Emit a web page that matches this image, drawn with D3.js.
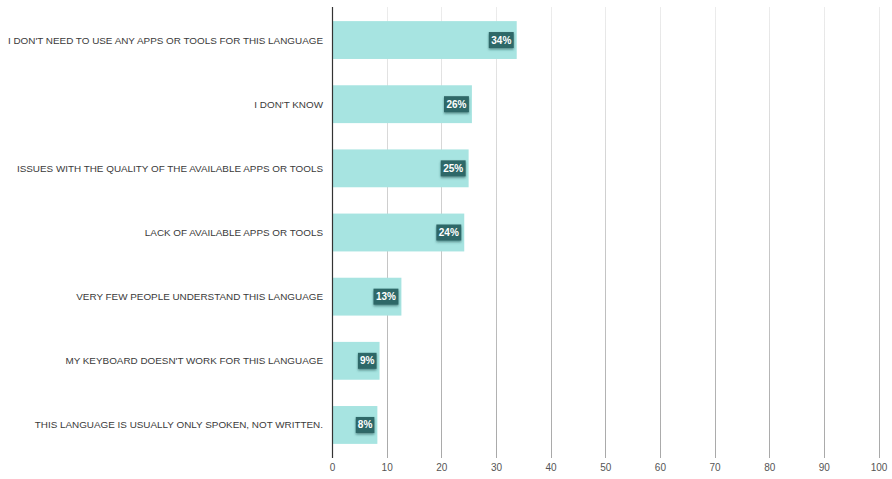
<!DOCTYPE html>
<html>
<head>
<meta charset="utf-8">
<script src="https://cdn.jsdelivr.net/npm/d3@7"></script>
<style>
  body { margin: 0; background: #fff; overflow: hidden; }
  svg { display: block; font-family: "Liberation Sans", Arial, sans-serif; }
  .cat-label { font-size: 9.9px; fill: #3a3a3a; }
  .x-axis text { font-size: 10px; fill: #555; }
  .badge-text { font-size: 10px; font-weight: bold; fill: #fff; }
</style>
</head>
<body>
<div id="chart"></div>
<script>
// Données
const categories = [
  "I DON'T NEED TO USE ANY APPS OR TOOLS FOR THIS LANGUAGE",
  "I DON'T KNOW",
  "ISSUES WITH THE QUALITY OF THE AVAILABLE APPS OR TOOLS",
  "LACK OF AVAILABLE APPS OR TOOLS",
  "VERY FEW PEOPLE UNDERSTAND THIS LANGUAGE",
  "MY KEYBOARD DOESN'T WORK FOR THIS LANGUAGE",
  "THIS LANGUAGE IS USUALLY ONLY SPOKEN, NOT WRITTEN."
];
const values = [33.8, 25.6, 25.0, 24.2, 12.7, 8.7, 8.3];
const valueLabels = ["34%", "26%", "25%", "24%", "13%", "9%", "8%"];
const xTicks = [0, 10, 20, 30, 40, 50, 60, 70, 80, 90, 100];

const width = 892, height = 479;
const margin = { top: 7, right: 13, bottom: 21, left: 332 };
const innerWidth = width - margin.left - margin.right;
const innerHeight = height - margin.top - margin.bottom;

const svg = d3.select("#chart").append("svg")
  .attr("width", width)
  .attr("height", height);

// gradient for grid lines (light at top, darker at bottom)
const defs = svg.append("defs");
const grad = defs.append("linearGradient")
  .attr("id", "gridGrad")
  .attr("gradientUnits", "userSpaceOnUse")
  .attr("x1", 0).attr("y1", 0).attr("x2", 0).attr("y2", innerHeight);
grad.append("stop").attr("offset", "0%").attr("stop-color", "#ececec");
grad.append("stop").attr("offset", "100%").attr("stop-color", "#a8a8a8");

const shadow = defs.append("filter").attr("id", "badgeShadow")
  .attr("x", "-30%").attr("y", "-30%").attr("width", "160%").attr("height", "170%");
shadow.append("feDropShadow")
  .attr("dx", 0).attr("dy", 1.5).attr("stdDeviation", 1.2)
  .attr("flood-color", "#1d4f4f").attr("flood-opacity", 0.6);

const g = svg.append("g")
  .attr("transform", `translate(${margin.left},${margin.top})`);

const xScale = d3.scaleLinear().domain([0, 100]).range([0, innerWidth - 0.5]);
const yScale = d3.scaleBand().domain(categories).range([0, innerHeight]).paddingInner(0.41).paddingOuter(0.22);

// GRID
g.selectAll(".grid-line")
  .data(xTicks.filter(d => d > 0))
  .enter()
  .append("line")
    .attr("class", "grid-line")
    .attr("x1", d => Math.round(xScale(d)) + 0.5)
    .attr("x2", d => Math.round(xScale(d)) + 0.5)
    .attr("y1", 0)
    .attr("y2", innerHeight)
    .attr("stroke", "url(#gridGrad)")
    .attr("stroke-width", 1);

// BARS
g.selectAll("rect.bar")
  .data(values)
  .enter()
  .append("rect")
    .attr("class", "bar")
    .attr("x", 0)
    .attr("y", (d, i) => yScale(categories[i]))
    .attr("width", d => xScale(d))
    .attr("height", yScale.bandwidth())
    .attr("fill", "#a7e4e1");

// BADGES
const badgeW = i => valueLabels[i].length * 6.3 + 6;
const badges = g.selectAll("g.badge")
  .data(values)
  .enter()
  .append("g")
    .attr("class", "badge")
    .attr("transform", (d, i) => `translate(${xScale(d) - 3},${yScale(categories[i]) + yScale.bandwidth() / 2})`);

badges.append("rect")
  .attr("x", (d, i) => -badgeW(i))
  .attr("y", -8)
  .attr("width", (d, i) => badgeW(i))
  .attr("height", 16)
  .attr("fill", "#2e6767")
  .attr("filter", "url(#badgeShadow)");

badges.append("text")
  .attr("class", "badge-text")
  .attr("x", (d, i) => -badgeW(i) / 2)
  .attr("y", 3.5)
  .attr("text-anchor", "middle")
  .text((d, i) => valueLabels[i]);

// Y-AXIS labels
g.selectAll("text.cat-label")
  .data(categories)
  .enter()
  .append("text")
    .attr("class", "cat-label")
    .attr("x", -9)
    .attr("y", d => yScale(d) + yScale.bandwidth() / 2 + 3.5)
    .attr("text-anchor", "end")
    .text(d => d);

// axis line
g.append("line")
  .attr("x1", 0.5).attr("x2", 0.5)
  .attr("y1", 0).attr("y2", innerHeight)
  .attr("stroke", "#333")
  .attr("stroke-width", 1.2);

// X-AXIS
const xAxis = g.append("g")
  .attr("class", "x-axis")
  .attr("transform", `translate(0,${innerHeight})`)
  .call(d3.axisBottom(xScale).tickValues(xTicks).tickSize(0).tickPadding(6));
xAxis.select(".domain").remove();
</script>
</body>
</html>
